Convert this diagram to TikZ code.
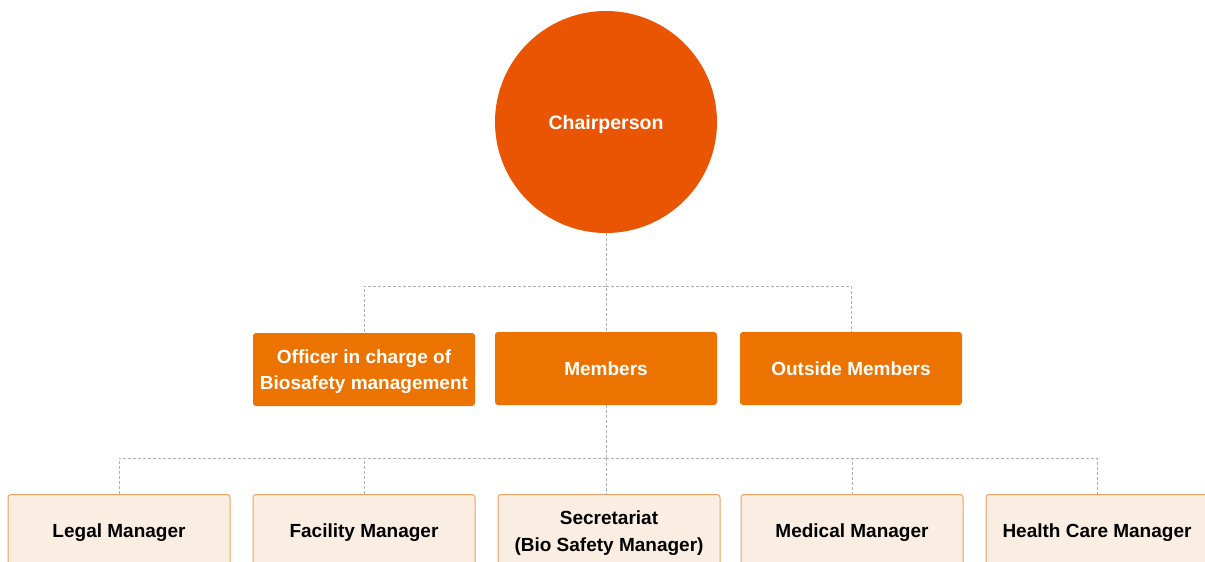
\documentclass[tikz,border=0pt]{standalone}
\usepackage{fontspec}
\setmainfont{Liberation Sans}
\usetikzlibrary{arrows.meta}
\definecolor{chairorange}{HTML}{EA5504}
\definecolor{boxorange}{HTML}{EC7300}
\definecolor{paleorange}{HTML}{FAEEE3}
\definecolor{edgeorange}{HTML}{F0A060}
\definecolor{linkgray}{HTML}{B0B0B0}
\tikzset{
  every picture/.style={line join=round},
  chairnode/.style={circle, fill=chairorange, text=white, minimum size=222pt, inner sep=0pt,
    text depth=0pt, font=\bfseries\fontsize{19.5}{26}\selectfont},
  midbox/.style={rectangle, rounded corners=3pt, fill=boxorange, text=white,
    minimum width=222pt, minimum height=73pt, inner sep=0pt, align=center, text depth=0pt,
    font=\bfseries\fontsize{19}{26}\selectfont},
  lowbox/.style={rectangle, rounded corners=3pt, fill=paleorange, draw=edgeorange, line width=1pt,
    text=black, minimum width=222pt, minimum height=73pt, inner sep=0pt, align=center, text depth=0pt,
    font=\bfseries\fontsize{19}{27}\selectfont},
  link/.style={draw=linkgray, dash pattern=on 3pt off 2pt, line width=0.8pt},
}
\begin{document}
\begin{tikzpicture}[x=1pt,y=-1pt]
\fill[white](0,0) rectangle (1205,562);
\useasboundingbox (0,0) rectangle (1205,562);
\clip (0,0) rectangle (1205,562);
% top
\node[chairnode] (chair) at (606,122) {Chairperson};
% committee row
\node[midbox] (officer) at (364,369.5) {Officer in charge of\\Biosafety management};
\node[midbox] (members) at (606,368.5) {Members};
\node[midbox] (outside) at (851,368.5) {Outside Members};
% staff row
\node[lowbox] (legal) at (119,531) {Legal Manager};
\node[lowbox] (facility) at (364,531) {Facility Manager};
\node[lowbox] (secretariat) at (609,531) {Secretariat\\(Bio Safety Manager)};
\node[lowbox] (medical) at (852,531) {Medical Manager};
\node[lowbox] (healthcare) at (1097,531) {Health Care Manager};
% links
\coordinate (hubtop) at (606,286);
\coordinate (hubbot) at (606,458);
\draw[link] (chair.south) -- (hubtop) -- (members.north);
\draw[link] (hubtop) -| (officer.north);
\draw[link] (hubtop) -| (outside.north);
\draw[link] (members.south) -- (hubbot);
\draw[link] (hubbot) -| (legal.north);
\draw[link] (hubbot) -| (facility.north);
\draw[link] (hubbot) -- (606,494.5);
\draw[link] (hubbot) -| (medical.north);
\draw[link] (hubbot) -| (healthcare.north);
\end{tikzpicture}
\end{document}
